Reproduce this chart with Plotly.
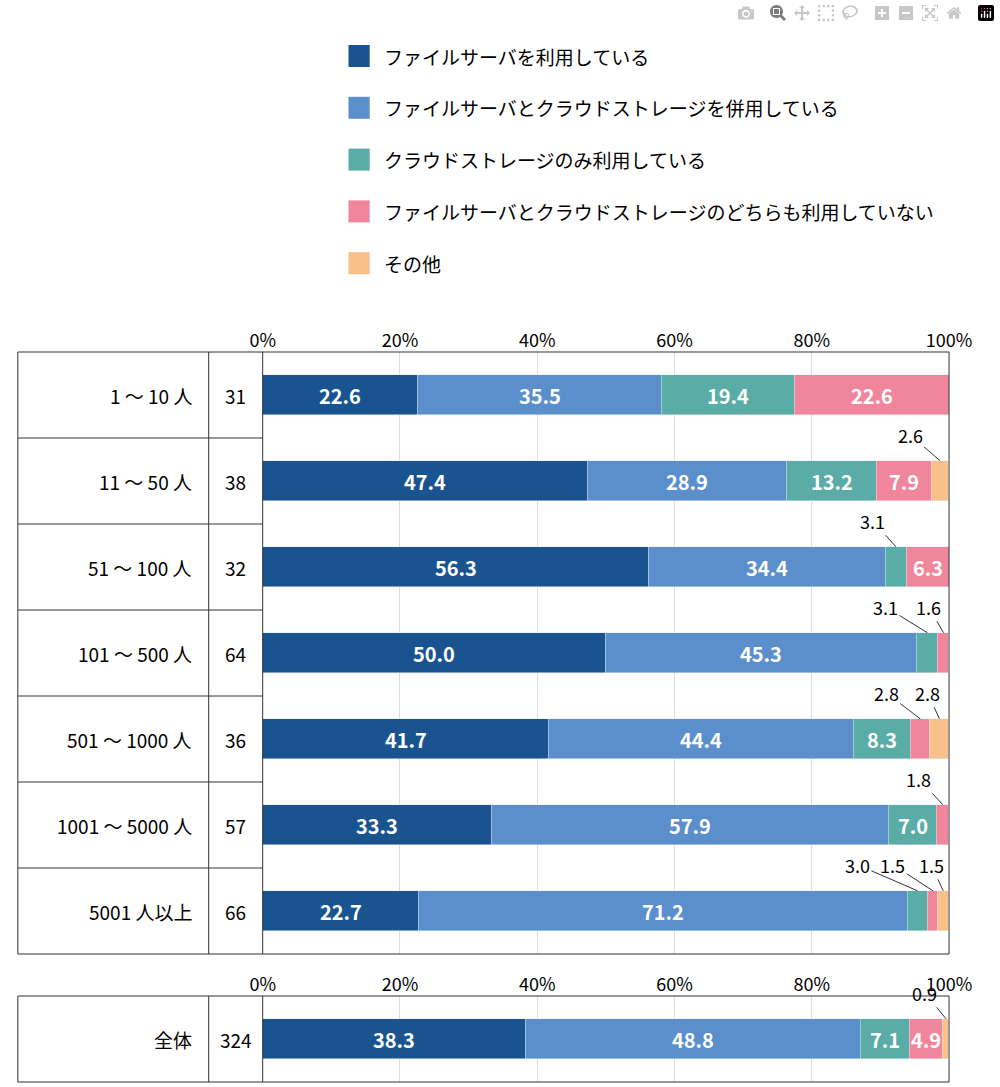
import plotly.graph_objects as go

W, H = 1000, 1087
rows = ["1 ～ 10 人", "11 ～ 50 人", "51 ～ 100 人", "101 ～ 500 人", "501 ～ 1000 人", "1001 ～ 5000 人", "5001 人以上"]
counts = [31, 38, 32, 64, 36, 57, 66]
series_names = ["ファイルサーバを利用している", "ファイルサーバとクラウドストレージを併用している",
                "クラウドストレージのみ利用している", "ファイルサーバとクラウドストレージのどちらも利用していない", "その他"]
colors = ["#1a5490", "#5b8fcc", "#5aada6", "#ef869c", "#f8c08a"]
vals = [
    [22.6, 47.4, 56.3, 50.0, 41.7, 33.3, 22.7],
    [35.5, 28.9, 34.4, 45.3, 44.4, 57.9, 71.2],
    [19.4, 13.2, 3.1, 3.1, 8.3, 7.0, 3.0],
    [22.6, 7.9, 6.3, 1.6, 2.8, 1.8, 1.5],
    [0, 2.6, 0, 0, 2.8, 0, 1.5],
]
total_label = "全体"
total_count = 324
total_vals = [38.3, 48.8, 7.1, 4.9, 0.9]
tick_vals = [0, 20, 40, 60, 80, 100]
tick_text = ["0%", "20%", "40%", "60%", "80%", "100%"]
small_offsets = {(1, 4): -30, (2, 2): -23, (3, 2): -42, (3, 3): -15, (4, 3): -34, (4, 4): -12,
                 (5, 3): -24, (6, 2): -60, (6, 3): -40, (6, 4): -12}
total_offsets = {(0, 4): -21}
FONT = "Noto Sans CJK JP"

def px_x(p): return p / W
def px_y(p): return 1 - p / H

fig = go.Figure()
ys = list(range(len(rows)))
for i in range(5):
    fig.add_trace(go.Bar(y=ys, x=vals[i], orientation="h", marker_color=colors[i], width=0.47,
                         xaxis="x", yaxis="y", showlegend=False, hoverinfo="skip"))
    fig.add_trace(go.Bar(y=[0], x=[total_vals[i]], orientation="h", marker_color=colors[i], width=0.47,
                         xaxis="x2", yaxis="y2", showlegend=False, hoverinfo="skip"))

ann = []
def add_labels(values_by_series, nrows, xref, yref, offsets):
    for r in range(nrows):
        cum = 0
        for s in range(5):
            v = values_by_series[s][r]
            if v <= 0:
                continue
            c = cum + v / 2
            cum += v
            if v >= 4:
                ann.append(dict(x=c, y=r, xref=xref, yref=yref, text=f"{v:.1f}", showarrow=False,
                                font=dict(color="white", size=20, family=FONT, weight="bold")))
            else:
                ax = offsets.get((r, s), -20)
                ann.append(dict(x=c, y=r - 0.235, xref=xref, yref=yref, text=f"{v:.1f}", showarrow=True,
                                arrowhead=0, arrowwidth=1, arrowcolor="#333", ax=ax, ay=-26, standoff=0,
                                font=dict(color="black", size=18, family=FONT)))

add_labels(vals, len(rows), "x", "y", small_offsets)
add_labels([[v] for v in total_vals], 1, "x2", "y2", total_offsets)

def txt(x, y, t, xanchor="center"):
    ann.append(dict(x=px_x(x), y=px_y(y), xref="paper", yref="paper", text=t, showarrow=False,
                    xanchor=xanchor, yanchor="middle", font=dict(size=19, color="black", family=FONT)))

shapes = []
line = dict(color="#333", width=1)
top, rowh = 352, 86
bottom = top + rowh * len(rows)
for j, (lab, n) in enumerate(zip(rows, counts)):
    yc = top + rowh * (j + 0.5)
    txt(188, yc, lab, "right")
    txt(231, yc, str(n))
    if j > 0:
        yl = px_y(top + rowh * j)
        shapes.append(dict(type="line", xref="paper", yref="paper", x0=px_x(5), x1=px_x(259), y0=yl, y1=yl, line=line))
for (t, b) in [(top, bottom), (996, 1082)]:
    shapes.append(dict(type="rect", xref="paper", yref="paper", x0=px_x(5), x1=px_x(971), y0=px_y(b), y1=px_y(t), line=line))
    shapes.append(dict(type="line", xref="paper", yref="paper", x0=px_x(203), x1=px_x(203), y0=px_y(b), y1=px_y(t), line=line))
    shapes.append(dict(type="line", xref="paper", yref="paper", x0=px_x(259), x1=px_x(259), y0=px_y(b), y1=px_y(t), line=line))
txt(188, 1039, total_label, "right")
txt(231, 1039, str(total_count))

for k, (nm, col) in enumerate(zip(series_names, colors)):
    yc = 56 + 51.8 * k
    shapes.append(dict(type="rect", xref="paper", yref="paper", x0=px_x(348), x1=px_x(370),
                       y0=px_y(yc + 11), y1=px_y(yc - 11), fillcolor=col, line=dict(width=0)))
    txt(383, yc, nm, "left")

xdom = [px_x(259), px_x(971)]
xcommon = dict(range=[0, 100], tickvals=tick_vals, ticktext=tick_text, side="top",
               showgrid=True, gridcolor="#dddddd", zeroline=False, ticks="", fixedrange=True,
               tickfont=dict(size=18, color="black", family=FONT), domain=xdom)
fig.update_layout(
    width=W, height=H, margin=dict(l=0, r=0, t=0, b=0), plot_bgcolor="white", paper_bgcolor="white",
    barmode="stack", bargap=0, showlegend=False, autosize=False,
    xaxis=dict(anchor="y", **xcommon),
    xaxis2=dict(anchor="y2", **xcommon),
    yaxis=dict(domain=[px_y(bottom), px_y(top)], range=[len(rows) - 0.5, -0.5], showticklabels=False,
               showgrid=False, zeroline=False),
    yaxis2=dict(domain=[px_y(1082), px_y(996)], range=[0.5, -0.5], showticklabels=False,
                showgrid=False, zeroline=False),
    annotations=ann, shapes=shapes,
)
fig.write_html("out.html", config={"responsive": False})
with open("out.html", encoding="utf-8") as f:
    html = f.read()
html = html.replace("<head>", "<head><style>html,body{margin:0;padding:0;overflow:hidden}</style>", 1)
with open("out.html", "w", encoding="utf-8") as f:
    f.write(html)
